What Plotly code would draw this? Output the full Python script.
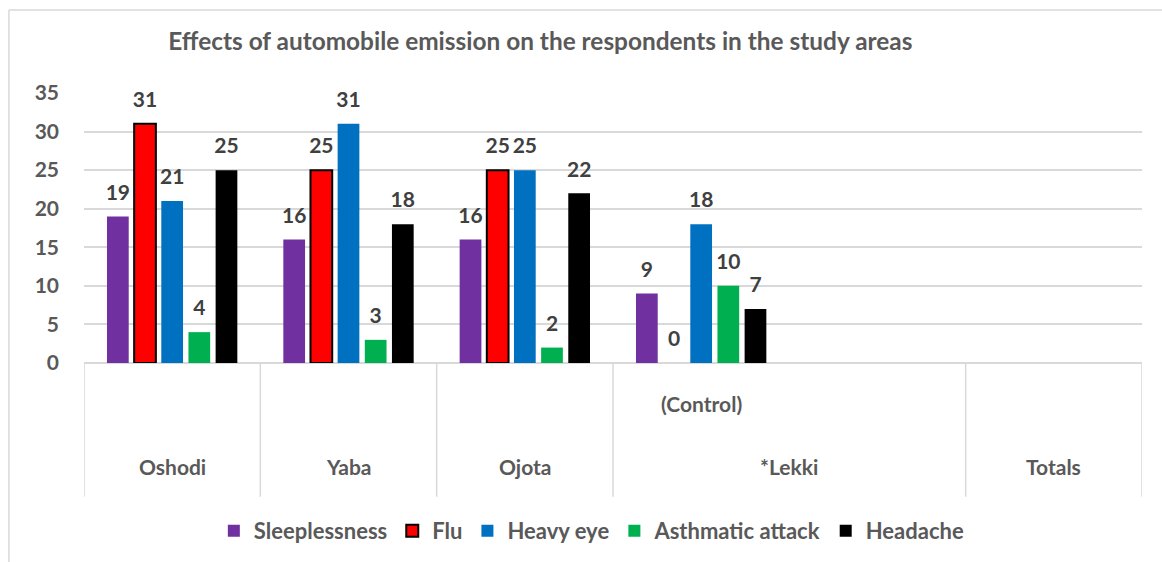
import plotly.graph_objects as go

categories = ["Oshodi", "Yaba", "Ojota", "(Control)", "_blank", "Totals"]
sleeplessness = [19, 16, 16, 9, None, None]
flu = [31, 25, 25, 0, None, None]
heavy_eye = [21, 31, 25, 18, None, None]
asthmatic = [4, 3, 2, 10, None, None]
headache = [25, 18, 22, 7, None, None]

series = [
    ("Sleeplessness", sleeplessness, "#7030A0", None),
    ("Flu", flu, "#FF0000", "#000000"),
    ("Heavy eye", heavy_eye, "#0070C0", None),
    ("Asthmatic attack", asthmatic, "#00B050", None),
    ("Headache", headache, "#000000", None),
]

outer_labels = [("Oshodi", 0), ("Yaba", 1), ("Ojota", 2), ("*Lekki", 3.5), ("Totals", 5)]
inner_labels = [("(Control)", 3)]
dividers = [-0.5, 0.5, 1.5, 2.5, 4.5, 5.5]

FONT = "Lato"
GRAY = "#595959"
LABEL = "#404040"
FS = 21

fig = go.Figure()
for name, vals, color, outline in series:
    if outline:
        lw = [2 if (v is not None and v > 0) else 0 for v in vals]
        line = dict(color=outline, width=lw)
    else:
        line = dict(color=color, width=0)
    fig.add_trace(go.Bar(
        name=name, x=categories, y=vals,
        marker=dict(color=color, line=line),
        text=[None if v is None else str(v) for v in vals],
        texttemplate="<span style='font-size:%dpx'>%%{text}</span><br> " % FS,
        textposition="outside",
        constraintext="none",
        cliponaxis=False,
        textfont=dict(family=FONT, size=9, color=LABEL, weight="bold"),
    ))

shapes = []
for d in dividers:
    shapes.append(dict(type="line", xref="x", yref="paper", x0=d, x1=d, y0=0, y1=-0.495,
                       line=dict(color="#D9D9D9", width=1.5)))
# chart border (top and left)
shapes.append(dict(type="line", xref="paper", yref="paper", x0=-0.071, x1=1.02, y0=1.307, y1=1.307,
                   line=dict(color="#D9D9D9", width=1.5)))
shapes.append(dict(type="line", xref="paper", yref="paper", x0=-0.071, x1=-0.071, y0=1.307, y1=-0.8,
                   line=dict(color="#D9D9D9", width=1.5)))

annotations = []
for lab, pos in outer_labels:
    annotations.append(dict(text=lab, x=pos, xref="x", y=-0.385, yref="paper", showarrow=False,
                            font=dict(family=FONT, size=FS, color=GRAY, weight="bold"),
                            yanchor="middle"))
for lab, pos in inner_labels:
    annotations.append(dict(text=lab, x=pos, xref="x", y=-0.15, yref="paper", showarrow=False,
                            font=dict(family=FONT, size=FS, color=GRAY, weight="bold"),
                            yanchor="middle"))

fig.update_layout(
    width=1162, height=562,
    margin=dict(l=84, r=20, t=93, b=198),
    paper_bgcolor="white", plot_bgcolor="white",
    barmode="group", bargap=0.23, bargroupgap=0.2,
    title=dict(text="Effects of automobile emission on the respondents in the study areas",
               x=0.465, xanchor="center", y=0.927, yanchor="middle",
               font=dict(family=FONT, size=24.4, color=GRAY, weight="bold")),
    xaxis=dict(type="category", categoryorder="array", categoryarray=categories,
               showticklabels=False, showgrid=False, zeroline=False, showline=False,
               range=[-0.5, 5.5]),
    yaxis=dict(range=[0, 35], dtick=5, showgrid=True, gridcolor="#D9D9D9", gridwidth=1.5,
               zeroline=True, zerolinecolor="#D9D9D9", zerolinewidth=1.5, showline=False,
               ticks="", ticklabelstandoff=24,
               tickfont=dict(family=FONT, size=FS, color=GRAY, weight="bold")),
    legend=dict(orientation="h", x=0.48, xanchor="center", y=-0.616, yanchor="middle",
                font=dict(family=FONT, size=22, color=GRAY, weight="bold"),
                itemwidth=30, traceorder="normal"),
    shapes=shapes, annotations=annotations,
    showlegend=True,
)

fig.write_html("out.html", post_script="document.body.style.margin='0';",
               config={"displayModeBar": False})
